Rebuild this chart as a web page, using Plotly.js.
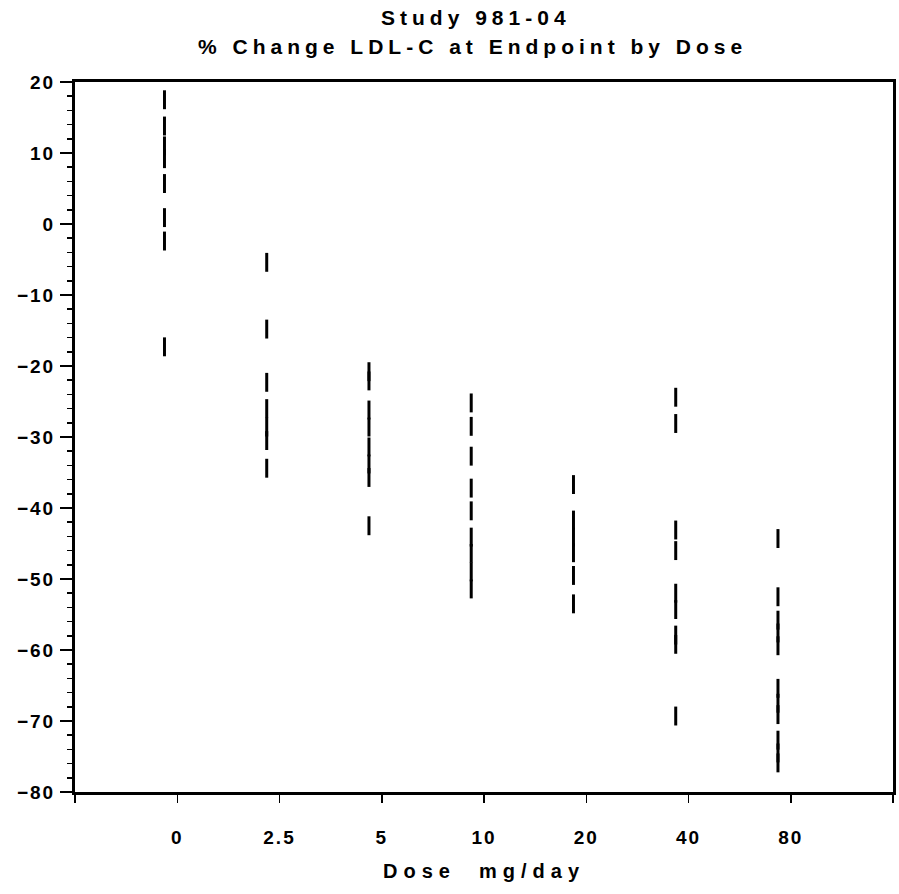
<!DOCTYPE html>
<html>
<head>
<meta charset="utf-8">
<script src="https://cdn.plot.ly/plotly-3.0.1.min.js"></script>
<style>
  html, body { margin: 0; padding: 0; background: #fff; }
  #chart { width: 899px; height: 894px; }
  .annotation text { letter-spacing: 5px; }
  .xtitle { letter-spacing: 6px; }
  .xtick text, .ytick text { letter-spacing: 2px; }
</style>
</head>
<body>
<div id="chart"></div>
<script>
// Dose groups (mg/day) shown along the x axis
const doseLabels = ['0', '2.5', '5', '10', '20', '40', '80'];

// % change in LDL-C at endpoint, one value per subject
const pctDose0   = [17.5, 13.8, 11.0, 9.2, 5.7, 0.9, -2.4, -17.3];
const pctDose2p5 = [-5.4, -14.8, -22.3, -26.0, -28.6, -30.5, -34.4];
const pctDose5   = [-20.8, -22.1, -26.2, -28.6, -31.4, -33.8, -35.7, -42.5];
const pctDose10  = [-25.2, -28.5, -32.7, -37.2, -40.4, -44.1, -46.4, -49.0, -51.4];
const pctDose20  = [-36.7, -41.7, -44.1, -46.3, -49.5, -53.5];
const pctDose40  = [-24.4, -28.1, -43.1, -46.0, -52.0, -54.3, -57.9, -59.2, -69.3];
const pctDose80  = [-44.3, -52.5, -55.8, -57.6, -59.4, -65.4, -67.5, -69.1, -72.7, -74.5, -75.9];

const groups = [pctDose0, pctDose2p5, pctDose5, pctDose10, pctDose20, pctDose40, pctDose80];

// each subject is drawn as a short vertical dash, slightly left of its dose tick
const traces = groups.map((vals, i) => ({
  type: 'scatter',
  mode: 'markers',
  x: vals.map(() => i + 1 - 0.125),
  y: vals,
  marker: { symbol: 'line-ns', size: 13.5, line: { width: 3, color: '#000' } },
  hoverinfo: 'y',
  showlegend: false
}));

const fam = 'Liberation Sans, Arial, sans-serif';

const layout = {
  width: 899,
  height: 894,
  margin: { l: 75, r: 6, t: 82, b: 102 },
  paper_bgcolor: '#fff',
  plot_bgcolor: '#fff',
  font: { family: fam, color: '#000' },
  annotations: [
    {
      text: '<b>Study 981-04</b>',
      xref: 'paper', yref: 'paper', x: 0.49, y: 1.0915,
      xanchor: 'center', yanchor: 'middle', showarrow: false,
      font: { family: fam, size: 21, color: '#000' }
    },
    {
      text: '<b>% Change LDL-C at Endpoint by Dose</b>',
      xref: 'paper', yref: 'paper', x: 0.486, y: 1.0493,
      xanchor: 'center', yanchor: 'middle', showarrow: false,
      font: { family: fam, size: 21, color: '#000' }
    }
  ],
  xaxis: {
    range: [0, 8],
    tickmode: 'array',
    tickvals: [0, 1, 2, 3, 4, 5, 6, 7, 8],
    ticktext: [''].concat(doseLabels, ['']),
    ticks: 'outside', ticklen: 8, tickwidth: 1.5, tickcolor: '#000',
    ticklabelstandoff: 18,
    showline: true, linewidth: 3, linecolor: '#000', mirror: true,
    showgrid: false, zeroline: false,
    tickfont: { size: 19, weight: 'bold', color: '#000' },
    title: { text: '<b>Dose  mg/day</b>', font: { size: 20, color: '#000' }, standoff: 18 }
  },
  yaxis: {
    range: [-80, 20],
    tickmode: 'linear', tick0: 0, dtick: 10,
    ticks: 'outside', ticklen: 12, tickwidth: 1.5, tickcolor: '#000',
    ticklabelstandoff: 1,
    minor: { dtick: 2, ticks: 'outside', ticklen: 5, tickwidth: 1.5, tickcolor: '#000', showgrid: false },
    showline: true, linewidth: 3, linecolor: '#000', mirror: true,
    showgrid: false, zeroline: false,
    tickfont: { size: 19, weight: 'bold', color: '#000' }
  }
};

Plotly.newPlot('chart', traces, layout, { staticPlot: true, displayModeBar: false });
</script>
</body>
</html>
